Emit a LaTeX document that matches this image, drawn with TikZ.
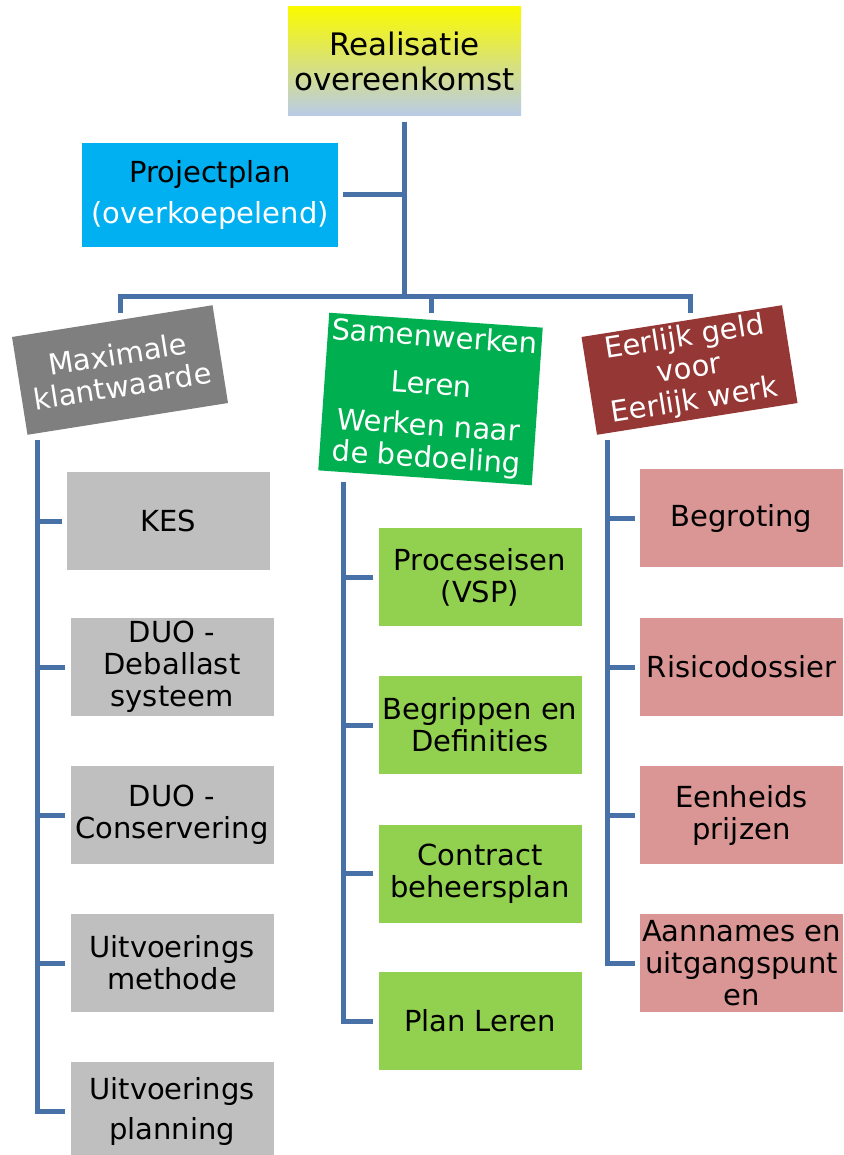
\documentclass[tikz,border=0pt]{standalone}
\usepackage{fontspec}
\setmainfont{DejaVu Sans}
\usepackage{xcolor}
\usetikzlibrary{positioning}

\definecolor{lijn}{RGB}{72,113,168}
\definecolor{cyaan}{RGB}{0,176,240}
\definecolor{grijsdonker}{RGB}{127,127,127}
\definecolor{groendonker}{RGB}{0,176,80}
\definecolor{roodbruin}{RGB}{149,55,53}
\definecolor{grijsblok}{RGB}{191,191,191}
\definecolor{groenblok}{RGB}{146,208,80}
\definecolor{rozeblok}{RGB}{218,150,148}

\begin{document}
\begin{tikzpicture}[x=1pt, y=-1pt,
	blok/.style={minimum width=203pt, minimum height=98pt, inner sep=0pt, align=center, font=\fontsize{29}{32}\selectfont},
	grijs/.style={blok, fill=grijsblok},
	groen/.style={blok, fill=groenblok},
	roze/.style={blok, fill=rozeblok},
	tak/.style={draw=lijn, line width=5pt}]
	\useasboundingbox (0,0) rectangle (843,1155);

	% top en projectplan
	\node[blok, minimum width=233pt, minimum height=109pt, font=\fontsize{31}{35}\selectfont,
		top color={rgb,255:red,250;green,250;blue,0}, middle color={rgb,255:red,205;green,212;blue,160},
		bottom color={rgb,255:red,185;green,203;blue,232}] (top) at (404.5,61.5) {Realisatie\\overeenkomst};
	\node[blok, fill=cyaan, minimum width=256pt, minimum height=104pt] (plan) at (210,195) {Projectplan\\[9pt]\textcolor{white}{(overkoepelend)}};

	% drie pijlers
	\node[blok, fill=grijsdonker, text=white, minimum height=99pt, rotate=9] (klant) at (120,370) {Maximale\\klantwaarde};
	\node[blok, fill=groendonker, text=white, minimum width=214pt, minimum height=158pt, rotate=-4] (samen) at (430.5,399) {Samenwerken\\[16pt]Leren\\[9pt]Werken naar\\de bedoeling};
	\node[blok, fill=roodbruin, text=white, minimum height=99pt, rotate=9] (eerlijk) at (689.5,370) {Eerlijk geld\\voor\\Eerlijk werk};

	% linker kolom
	\node[grijs] (kes) at (168.5,521) {KES};
	\node[grijs] (deballast) at (172,667) {DUO -\\Deballast\\systeem};
	\node[grijs] (conservering) at (172,815) {DUO -\\Conservering};
	\node[grijs] (methode) at (172,963) {Uitvoerings\\methode};
	\node[grijs] (planning) at (172,1111) {Uitvoerings\\[8pt]planning};

	% middelste kolom
	\node[groen] (vsp) at (480,577) {Proceseisen\\(VSP)};
	\node[groen] (begrippen) at (480,725) {Begrippen en\\Definities};
	\node[groen] (contract) at (480,873.5) {Contract\\beheersplan};
	\node[groen] (leren) at (480,1021) {Plan Leren};

	% rechter kolom
	\node[roze] (begroting) at (741.5,518) {Begroting};
	\node[roze] (risico) at (741.5,667) {Risicodossier};
	\node[roze] (prijzen) at (741.5,815) {Eenheids\\prijzen};
	\node[roze] (aannames) at (741.5,963) {Aannames en\\uitgangspunt\\en};

	\coordinate (knoop) at (404.5,296);
	\coordinate (aK) at (120,313);
	\coordinate (aS) at (431,313);
	\coordinate (aE) at (690,313);
	\coordinate (sK) at (37,440);
	\coordinate (sS) at (343,482);
	\coordinate (sE) at (607,440);

	% boom
	\draw[tak] ([yshift=-6pt]top.south) -- (knoop);
	\draw[tak] ([xshift=5pt]plan.east) -- (plan.east -| knoop);
	\draw[tak] (aK) |- (knoop) -| (aE);
	\draw[tak] (knoop -| aS) -- (aS);

	\draw[tak] (sK) |- ([xshift=-5pt]planning.west);
	\foreach \n in {kes,deballast,conservering,methode}
		\draw[tak] (sK |- \n.west) -- ([xshift=-5pt]\n.west);
	\draw[tak] (sS) |- ([xshift=-5pt]leren.west);
	\foreach \n in {vsp,begrippen,contract}
		\draw[tak] (sS |- \n.west) -- ([xshift=-5pt]\n.west);
	\draw[tak] (sE) |- ([xshift=-5pt]aannames.west);
	\foreach \n in {begroting,risico,prijzen}
		\draw[tak] (sE |- \n.west) -- ([xshift=-5pt]\n.west);
\end{tikzpicture}
\end{document}
